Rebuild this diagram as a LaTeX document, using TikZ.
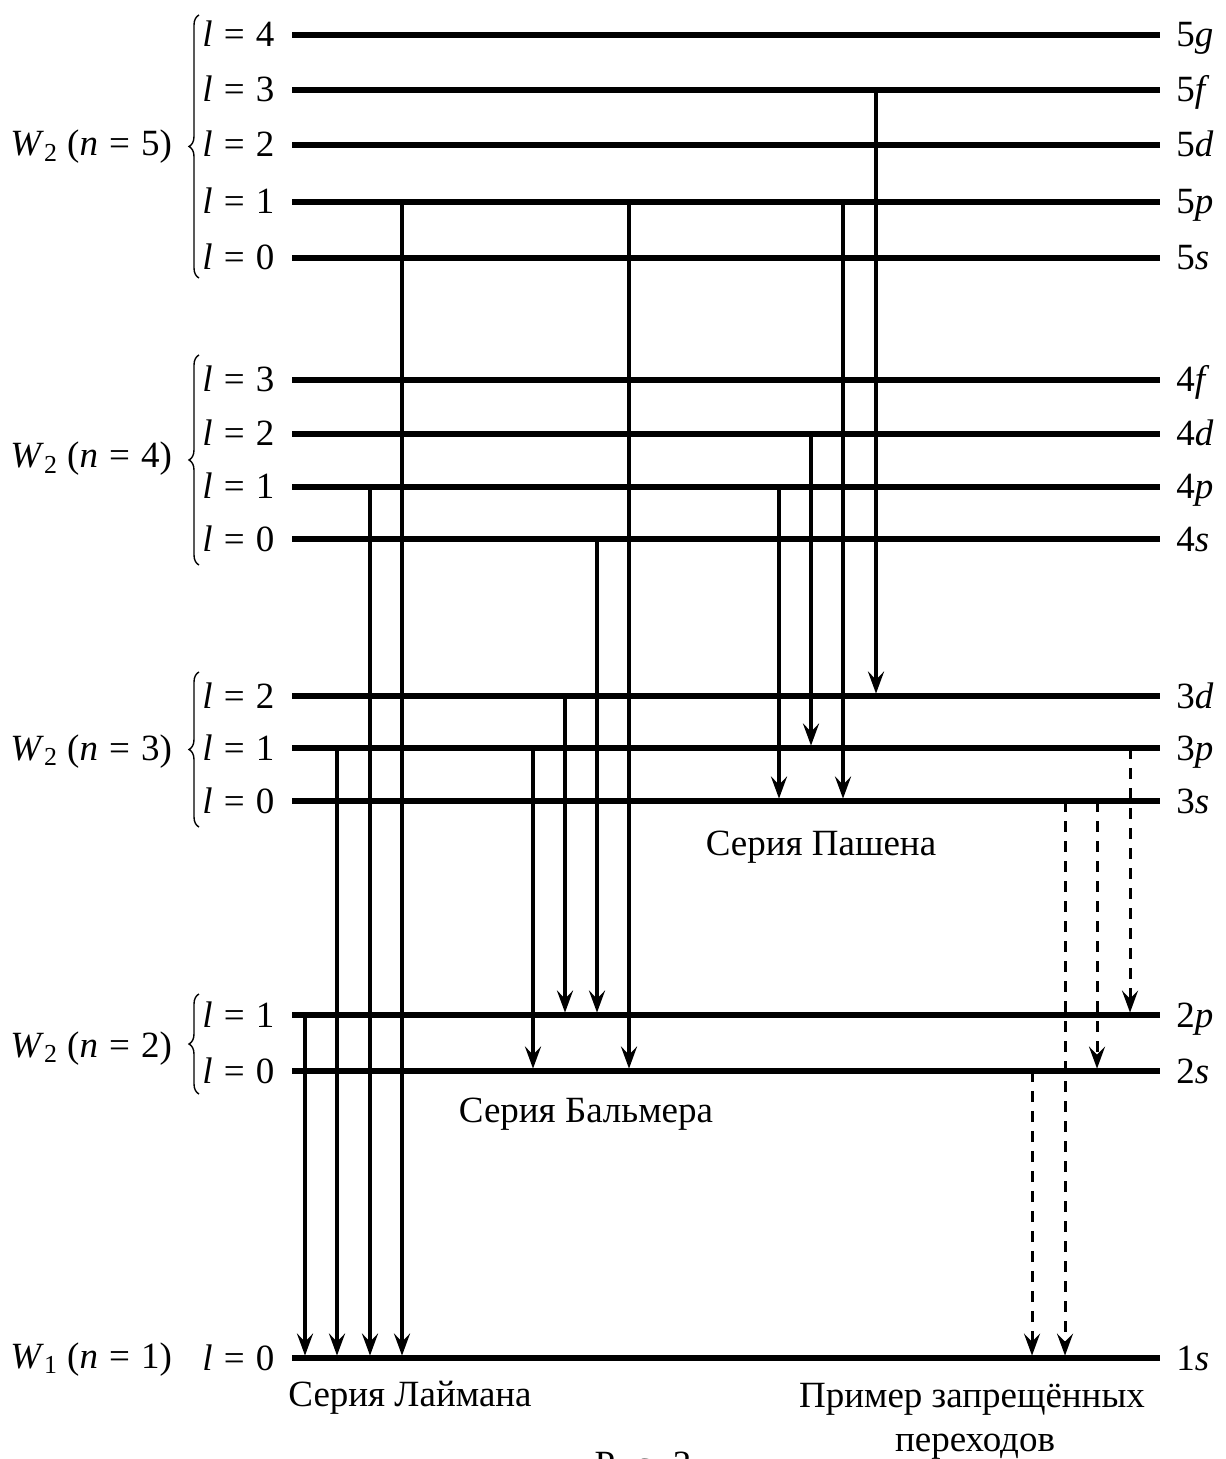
\documentclass[tikz,border=0pt]{standalone}
\usepackage{fontspec}
\setmainfont{Liberation Serif}
\usetikzlibrary{arrows.meta,decorations.pathreplacing}

\tikzset{
  level/.style={line width=3.2pt, line cap=butt},
  trans/.style={line width=1.8pt, -{Stealth[length=11pt,width=8pt,inset=4pt]}, shorten >=1.2pt},
  forbid/.style={trans, line width=1.5pt, dash pattern=on 5.5pt off 4.5pt},
  brc/.style={decorate, decoration={brace, amplitude=5pt}, line width=0.7pt},
  lab/.style={inner sep=0pt, font=\fontsize{18.5}{22}\selectfont},
  seriestext/.style={inner sep=0pt, anchor=base, font=\fontsize{18.5}{22}\selectfont}
}
\newcommand\eqsp{\hspace{0.3em}=\hspace{0.3em}}

\begin{document}
\begin{tikzpicture}[x=0.5pt, y=-0.5pt]
\useasboundingbox (0,0) rectangle (1225,1459);

% energy levels: name / height / orbital quantum number / n / letter
\foreach \n/\y/\l/\d/\s in {
  5g/35/4/5/g, 5f/90/3/5/f, 5d/145/2/5/d, 5p/202/1/5/p, 5s/258/0/5/s,
  4f/380/3/4/f, 4d/434/2/4/d, 4p/487/1/4/p, 4s/539/0/4/s,
  3d/696/2/3/d, 3p/748/1/3/p, 3s/801/0/3/s,
  2p/1015/1/2/p, 2s/1071/0/2/s,
  1s/1358/0/1/s}{
  \coordinate (L\n) at (0,\y);
  \draw[level] (292,\y) -- (1160,\y);
  \node[lab, anchor=base west] (ll\n) at (202,\y+12) {\textit{l}\eqsp\l};
  \node[lab, anchor=base west] (lr\n) at (1176,\y+12) {\d\textit{\s}};
}

% shells
\draw[brc] (199,278) -- (199,15);
\draw[brc] (199,565) -- (199,355);
\draw[brc] (199,827) -- (199,672);
\draw[brc] (199,1094) -- (199,994);

\node[lab, anchor=base west] (w5) at (10,156) {\textit{W}\textsubscript{2} (\textit{n}\eqsp5)};
\node[lab, anchor=base west] (w4) at (10,468) {\textit{W}\textsubscript{2} (\textit{n}\eqsp4)};
\node[lab, anchor=base west] (w3) at (10,760) {\textit{W}\textsubscript{2} (\textit{n}\eqsp3)};
\node[lab, anchor=base west] (w2) at (10,1057) {\textit{W}\textsubscript{2} (\textit{n}\eqsp2)};
\node[lab, anchor=base west] (w1) at (10,1368) {\textit{W}\textsubscript{1} (\textit{n}\eqsp1)};

% allowed transitions
\foreach \x/\a/\b in {
  305/2p/1s, 337/3p/1s, 370/4p/1s, 402/5p/1s,
  533/3p/2s, 565/3d/2p, 597/4s/2p, 629/5p/2s,
  779/4p/3s, 811/4d/3p, 843/5p/3s, 876/5f/3d}{
  \draw[trans] (\x,0 |- L\a) -- (\x,0 |- L\b);
}

% forbidden transitions
\foreach \x/\a/\b in {1130/3p/2p, 1097/3s/2s, 1065/3s/1s, 1032/2s/1s}{
  \draw[forbid] (\x,0 |- L\a) -- (\x,0 |- L\b);
}

% series names
\node[seriestext] (pash) at (821,855) {Серия Пашена};
\node[seriestext] (balm) at (586,1122) {Серия Бальмера};
\node[seriestext] (laim) at (410,1406) {Серия Лаймана};
\node[seriestext] (forb1) at (972,1407) {Пример запрещённых};
\node[seriestext] (forb2) at (975,1451) {переходов};
\node[seriestext] (fig) at (643,1476) {Рис. 3};
\end{tikzpicture}
\end{document}
